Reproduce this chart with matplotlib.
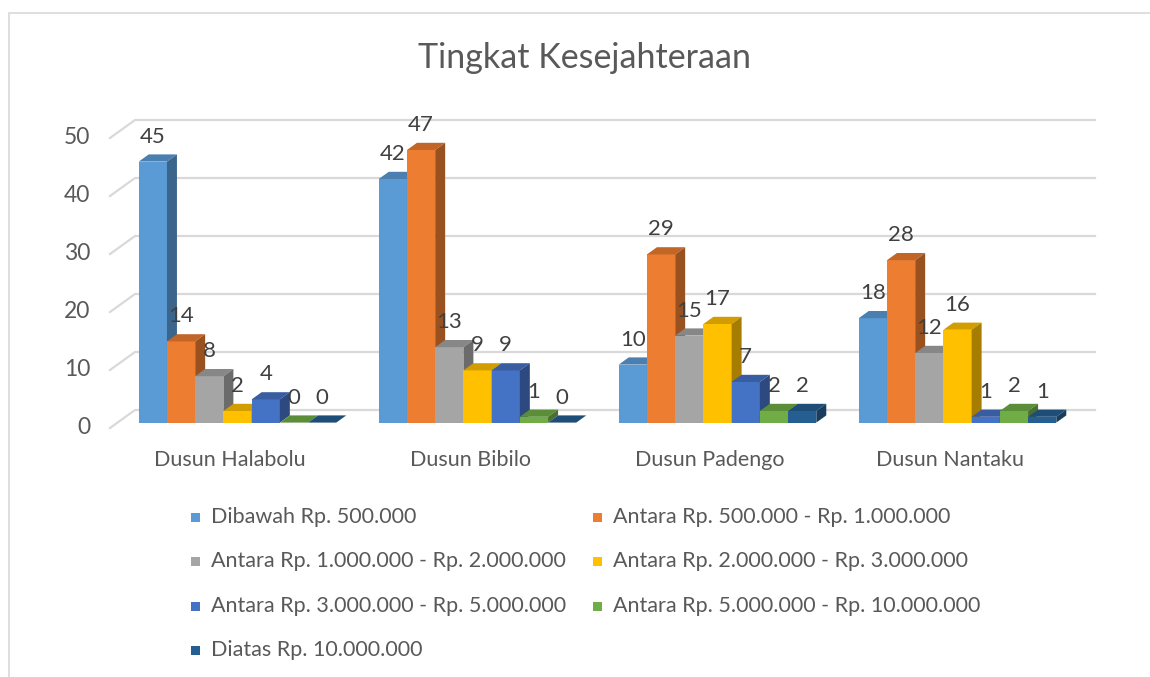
import matplotlib.pyplot as plt
from matplotlib.patches import Polygon, Rectangle
from matplotlib.colors import to_rgb

plt.rcParams['font.family'] = ['Lato', 'DejaVu Sans']

# data
judul = 'Tingkat Kesejahteraan'
dusun = ['Dusun Halabolu', 'Dusun Bibilo', 'Dusun Padengo', 'Dusun Nantaku']
kelompok = ['Dibawah Rp. 500.000',
            'Antara Rp. 500.000 - Rp. 1.000.000',
            'Antara Rp. 1.000.000 - Rp. 2.000.000',
            'Antara Rp. 2.000.000 - Rp. 3.000.000',
            'Antara Rp. 3.000.000 - Rp. 5.000.000',
            'Antara Rp. 5.000.000 - Rp. 10.000.000',
            'Diatas Rp. 10.000.000']
dibawah_500rb = [45, 42, 10, 18]
antara_500rb_1jt = [14, 47, 29, 28]
antara_1jt_2jt = [8, 13, 15, 12]
antara_2jt_3jt = [2, 9, 17, 16]
antara_3jt_5jt = [4, 9, 7, 1]
antara_5jt_10jt = [0, 1, 2, 2]
diatas_10jt = [0, 0, 2, 1]
yticks = [0, 10, 20, 30, 40, 50]

series = [dibawah_500rb, antara_500rb_1jt, antara_1jt_2jt, antara_2jt_3jt,
          antara_3jt_5jt, antara_5jt_10jt, diatas_10jt]
warna = ['#5B9BD5', '#ED7D31', '#A5A5A5', '#FFC000', '#4472C4', '#70AD47', '#255E91']


def shade(c, f):
    r, g, b = to_rgb(c)
    return (r * f, g * f, b * f)


W, H = 1150, 677
fig = plt.figure(figsize=(W / 100, H / 100), dpi=100)
ax = fig.add_axes([110 / W, 1 - 428 / H, 960 / W, 290 / H])
ax.set_xlim(0, len(dusun))
ax.set_ylim(0, 50)
ax.axis('off')

# depth of the 3d box (25 px right, 18 px up)
DX = 25 / 240
DY = 18 / 5.8
f1, f2 = 0.3, 0.7
w = 0.1176
m = (1 - 7 * w) / 2
txt = '#595959'

# gridlines on side wall + back wall
for v in yticks:
    ax.plot([0, DX, len(dusun) + DX], [v, v + DY, v + DY], color='#d9d9d9',
            lw=1.6, clip_on=False, zorder=1)
    ax.annotate(str(v), (0, v), xytext=(-20, 0), textcoords='offset pixels',
                ha='right', va='center', fontsize=16.5, color=txt)

for i, nama in enumerate(dusun):
    ax.annotate(nama, (i + 0.5, 0), xytext=(0, -32), textcoords='offset pixels',
                ha='center', va='center', fontsize=15.5, color=txt)

ddx = (f2 - f1) * DX
ddy = (f2 - f1) * DY
for i in range(len(dusun)):
    for j, vals in enumerate(series):
        v = vals[i]
        c = warna[j]
        z = 2 + 0.01 * (i * 7 + j)
        x0 = i + m + j * w + f1 * DX
        y0 = f1 * DY
        ax.add_patch(Rectangle((x0, y0), w, v, fc=c, ec='none', zorder=z, clip_on=False))
        ax.add_patch(Polygon([(x0, y0 + v), (x0 + w, y0 + v), (x0 + w + ddx, y0 + v + ddy),
                              (x0 + ddx, y0 + v + ddy)], fc=shade(c, 0.82), ec='none',
                             zorder=z, clip_on=False))
        ax.add_patch(Polygon([(x0 + w, y0), (x0 + w + ddx, y0 + ddy),
                              (x0 + w + ddx, y0 + v + ddy), (x0 + w, y0 + v)],
                             fc=shade(c, 0.65), ec='none', zorder=z, clip_on=False))
        ax.annotate(str(v), (x0 + w / 2, y0 + v), xytext=(0, 25),
                    textcoords='offset pixels', ha='center', va='center',
                    fontsize=16, color='#404040', zorder=100)

# legend, two columns
leg_x = [195, 597]
leg_y = [517, 561, 606, 650]
for k, lab in enumerate(kelompok):
    x = leg_x[k % 2]
    y = leg_y[k // 2]
    fig.add_artist(Rectangle(((x - 4.5) / W, 1 - (y + 4.5) / H), 9 / W, 9 / H,
                             transform=fig.transFigure, fc=warna[k], ec='none'))
    fig.text((x + 16) / W, 1 - y / H, lab, ha='left', va='center',
             fontsize=15.5, color=txt)

fig.text(585 / W, 1 - 58 / H, judul, ha='center', va='center', fontsize=24.5, color=txt)

# chart border
fig.add_artist(Rectangle((9 / W, -0.05), 1.1, 1 - 13 / H + 0.05,
                         transform=fig.transFigure, fill=False, ec='#d9d9d9', lw=1.2))

fig.savefig('out.png', dpi=100)
